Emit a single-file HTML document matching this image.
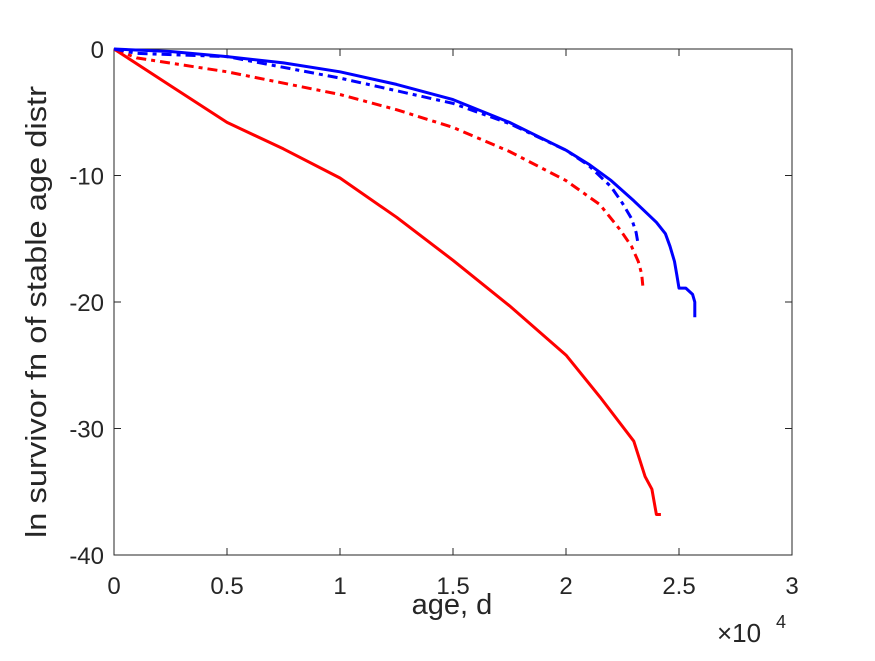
<!DOCTYPE html>
<html><head><meta charset="utf-8"><style>
body{margin:0;background:#fff}
svg text{font-family:"Liberation Sans",sans-serif;fill:#262626}
</style></head><body>
<svg width="875" height="656">
<rect x="0" y="0" width="875" height="656" fill="#fff"/>
<g id="plot"></g>
</svg>
<script>
const xTicks=[0,0.5,1,1.5,2,2.5,3];
const xTickLabels=["0","0.5","1","1.5","2","2.5","3"];
const yTicks=[0,-10,-20,-30,-40];
const yTickLabels=["0","-10","-20","-30","-40"];
const blueSolidX=[0,0.25,0.5,0.75,1,1.25,1.5,1.75,2,2.1,2.2,2.3,2.4,2.44,2.46,2.48,2.49,2.5,2.53,2.56,2.57,2.57];
const blueSolidY=[0,-0.2,-0.6,-1.1,-1.8,-2.8,-4,-5.8,-8,-9.1,-10.4,-12,-13.7,-14.6,-15.6,-16.8,-17.8,-18.9,-18.9,-19.4,-20,-21.2];
const blueDashX=[0,0.1,0.5,1,1.5,1.75,2,2.1,2.2,2.25,2.29,2.31,2.32];
const blueDashY=[0,-0.35,-0.6,-2.3,-4.3,-5.9,-8,-9.2,-10.9,-12.2,-13.4,-14.5,-15.5];
const redDashX=[0,0.1,0.5,1,1.25,1.5,1.75,2,2.15,2.24,2.29,2.32,2.335,2.34];
const redDashY=[0,-0.7,-1.8,-3.6,-4.8,-6.2,-8.1,-10.4,-12.3,-14.3,-15.6,-16.8,-17.8,-18.7];
const redSolidX=[0,0.25,0.5,0.75,1,1.25,1.5,1.75,2,2.15,2.3,2.35,2.38,2.4,2.42];
const redSolidY=[0,-2.9,-5.8,-7.9,-10.2,-13.3,-16.7,-20.3,-24.2,-27.5,-31,-33.8,-34.8,-36.8,-36.8];
const X0=114,X1=792,Y0=49,Y1=555;
const sx=v=>X0+(v/3)*(X1-X0);
const sy=v=>Y0+(-v/40)*(Y1-Y0);
const g=document.getElementById('plot');
const NS='http://www.w3.org/2000/svg';
function mk(t,a,txt){const e=document.createElementNS(NS,t);for(const k in a)e.setAttribute(k,a[k]);if(txt!==undefined)e.textContent=txt;g.appendChild(e);return e;}
let e=mk('rect',{x:X0,y:Y0,width:X1-X0,height:Y1-Y0,fill:'none',stroke:'#262626','stroke-width':1});


xTicks.forEach((v,i)=>{
 mk('line',{x1:sx(v),x2:sx(v),y1:Y1,y2:Y1-7,stroke:'#262626'});
 mk('line',{x1:sx(v),x2:sx(v),y1:Y0,y2:Y0+7,stroke:'#262626'});
 let t=mk('text',{x:sx(v),y:594,'font-size':24,'text-anchor':'middle'},xTickLabels[i]);
 
 
});
yTicks.forEach((v,i)=>{
 mk('line',{x1:X0,x2:X0+7,y1:sy(v),y2:sy(v),stroke:'#262626'});
 mk('line',{x1:X1,x2:X1-7,y1:sy(v),y2:sy(v),stroke:'#262626'});
 let t=mk('text',{x:X0-10,y:sy(v)+9,'font-size':24,'text-anchor':'end'},yTickLabels[i]);
 
 
});
function line(xs,ys,color,dash,name){
 const d=xs.map((x,i)=>(i?'L':'M')+sx(x).toFixed(1)+','+sy(ys[i]).toFixed(1)).join('');
 const p=mk('path',{d:d,fill:'none',stroke:color,'stroke-width':3,'stroke-linejoin':'round'});
 if(dash)p.setAttribute('stroke-dasharray',dash);
 
 
}
line(redSolidX,redSolidY,'#ff0000',null,'red-solid-line');
line(redDashX,redDashY,'#ff0000','10,5,4,5','red-dashdot-line');
line(blueDashX,blueDashY,'#0000ff','10,5,4,5','blue-dashdot-line');
line(blueSolidX,blueSolidY,'#0000ff',null,'blue-solid-line');
e=mk('text',{x:452,y:614,'font-size':29,'text-anchor':'middle'},'age, d');


e=mk('text',{x:717,y:642,'font-size':26},'\u00d710');


e=mk('text',{x:776,y:628,'font-size':18},'4');


e=mk('text',{x:0,y:0,'font-size':29,'text-anchor':'middle',textLength:452,lengthAdjust:'spacingAndGlyphs',transform:'translate(46,312) rotate(-90)'},'ln survivor fn of stable age distr');


</script>
</body></html>
